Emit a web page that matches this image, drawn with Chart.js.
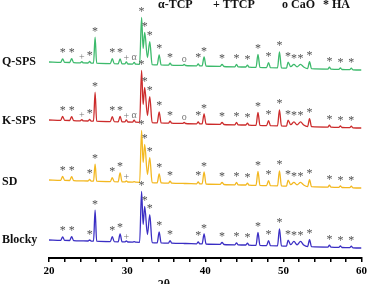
<!DOCTYPE html>
<html>
<head>
<meta charset="utf-8">
<script src="https://cdn.jsdelivr.net/npm/chart.js@4.4.0/dist/chart.umd.min.js"></script>
<style>
  body { margin: 0; background: #fff; }
  canvas { display: block; }
</style>
</head>
<body>
<canvas id="xrdChart" width="370" height="284"></canvas>
<script>
// 2-theta sampling positions (deg), shared by all four patterns
const twoTheta = [20, 21.5, 21.75, 22.0, 22.65, 22.9, 23.15, 24.0, 24.2, 24.4,
  25.0, 25.2, 25.4, 25.7, 25.9, 26.1, 27.85, 28.1, 28.35, 28.85,
  29.1, 29.35, 29.7, 29.9, 30.1, 30.7, 30.9, 31.1, 31.6, 31.85,
  32.05, 32.25, 32.6, 32.9, 33.2, 33.85, 34.1, 34.35, 35.3, 35.5,
  35.7, 37.1, 37.3, 37.5, 38.9, 39.1, 39.3, 39.6, 39.85, 40.1,
  41.9, 42.15, 42.4, 43.8, 44.0, 44.2, 45.2, 45.4, 45.6, 46.5,
  46.75, 47.0, 47.85, 48.1, 48.35, 49.25, 49.5, 49.75, 50.4, 50.6,
  50.95, 51.35, 51.75, 52.2, 52.6, 53.1, 53.35, 53.6, 55.7, 55.9,
  56.1, 57.1, 57.3, 57.5, 58.5, 58.7, 58.9, 60];

// intensities (a.u.)
const qspsIntensity = [8, 7.7, 11.2, 7.6, 7.5, 11.4, 7.4, 7.2, 8.4, 7.1,
  7.0, 8.5, 6.9, 6.9, 32.8, 6.8, 6.4, 11.4, 6.3, 6.2,
  11.2, 6.1, 6.1, 8, 6.0, 5.9, 7.6, 5.8, 5.7, 52.6,
  21.6, 37.5, 12.5, 28.4, 5.4, 5.2, 15.2, 5.1, 4.9, 6.9,
  4.9, 4.6, 5.5, 4.5, 4.2, 6.2, 4.1, 4.1, 13, 4.0,
  3.6, 5.6, 3.5, 3.2, 5.7, 3.2, 3.0, 4.9, 2.9, 2.7,
  15.6, 2.6, 2.4, 7.4, 2.3, 2.2, 18.1, 2.1, 1.9, 7.9,
  3.3, 5.7, 3.2, 5.6, 3, 1.4, 8.3, 1.3, 0.9, 2.8,
  0.8, 0.6, 2, 0.5, 0.3, 1.8, 0.2, 0];

const kspsIntensity = [8, 7.7, 11.7, 7.6, 7.5, 11.4, 7.4, 7.2, 8.4, 7.1,
  7.0, 8.5, 6.9, 6.9, 35.8, 6.8, 6.4, 11.4, 6.3, 6.2,
  11.7, 6.1, 6.1, 8, 6.0, 5.9, 7.8, 5.8, 5.7, 57.6,
  23.6, 40.5, 12.5, 31.4, 5.4, 5.2, 16.2, 5.1, 4.9, 6.9,
  4.9, 4.6, 5.5, 4.5, 4.2, 6.2, 4.1, 4.1, 14, 4.0,
  3.6, 5.6, 3.5, 3.2, 5.7, 3.2, 3.0, 4.9, 2.9, 2.7,
  15.6, 2.6, 2.4, 7.4, 2.3, 2.2, 18.1, 2.1, 1.9, 7.9,
  3.3, 6.2, 3.2, 6.1, 3, 1.4, 9.3, 1.3, 0.9, 2.8,
  0.8, 0.6, 2, 0.5, 0.3, 1.8, 0.2, 0];

const sdIntensity = [8, 7.7, 11.7, 7.6, 7.5, 11.4, 7.4, 7.2, 7.2, 7.1,
  7.0, 8.5, 6.9, 6.9, 23.8, 6.8, 6.4, 10.4, 6.3, 6.2,
  15.2, 6.1, 6.1, 7, 6.0, 5.9, 6.3, 5.8, 5.7, 57.6,
  25.6, 43.5, 13.5, 30.4, 5.4, 5.2, 14.2, 5.1, 4.9, 6.9,
  4.9, 4.6, 4.5, 4.5, 4.2, 6.2, 4.1, 4.1, 16, 4.0,
  3.6, 5.6, 3.5, 3.2, 5.7, 3.2, 3.0, 4.9, 2.9, 2.7,
  16.6, 2.6, 2.4, 7.4, 2.3, 2.2, 17.1, 2.1, 1.9, 7.9,
  3.3, 5.7, 3.2, 5.6, 3, 1.4, 8.3, 1.3, 0.9, 2.8,
  0.8, 0.6, 2, 0.5, 0.3, 1.8, 0.2, 0];

const blockyIntensity = [8, 7.7, 11.2, 7.6, 7.5, 11.4, 7.4, 7.2, 7.2, 7.1,
  7.0, 8.0, 6.9, 6.9, 37.8, 6.8, 6.4, 11.4, 6.3, 6.2,
  14.2, 6.1, 6.1, 7, 6.0, 5.9, 6.3, 5.8, 5.7, 56.6,
  23.6, 41.5, 13.5, 33.4, 5.4, 5.2, 16.2, 5.1, 4.9, 7.4,
  4.9, 4.6, 4.5, 4.5, 4.2, 6.2, 4.1, 4.1, 14, 4.0,
  3.6, 5.6, 3.5, 3.2, 5.2, 3.2, 3.0, 4.9, 2.9, 2.7,
  15.6, 2.6, 2.4, 7.4, 2.3, 2.2, 19.1, 2.1, 1.9, 7.9,
  3.3, 6.7, 3.2, 6.6, 3, 1.4, 8.3, 1.3, 0.9, 2.8,
  0.8, 0.6, 2, 0.5, 0.3, 1.8, 0.2, 0];

const sampleNames = ['Q-SPS', 'K-SPS', 'SD', 'Blocky'];
const stackOffsets = [188, 130, 70, 10]; // vertical shift of each pattern
const lineColors = ['#3dba6c', '#cc2b2b', '#f3b820', '#3a2ec4'];

// phase marks: [2theta, symbol]
const marksSPS = [[21.75, '*'], [22.9, '*'], [24.2, '+'], [25.2, '*'], [25.9, '*'],
  [28.1, '*'], [29.1, '*'], [29.9, '+'], [30.9, 'α'], [31.85, '*'], [32.25, '*'],
  [32.9, '*'], [34.1, '*'], [35.5, '*'], [37.3, 'o'], [39.1, '*'], [39.85, '*'],
  [42.15, '*'], [44.0, '*'], [45.4, '*'], [46.75, '*'], [48.1, '*'], [49.5, '*'],
  [50.6, '*'], [51.35, '*'], [52.2, '*'], [53.35, '*'], [55.9, '*'], [57.3, '*'], [58.7, '*']];
const marksPowder = [[21.75, '*'], [22.9, '*'], [25.2, '*'], [25.9, '*'],
  [28.1, '*'], [29.1, '*'], [29.9, '+'], [31.85, '*'], [32.25, '*'],
  [32.9, '*'], [34.1, '*'], [35.5, '*'], [39.1, '*'], [39.85, '*'],
  [42.15, '*'], [44.0, '*'], [45.4, '*'], [46.75, '*'], [48.1, '*'], [49.5, '*'],
  [50.6, '*'], [51.35, '*'], [52.2, '*'], [53.35, '*'], [55.9, '*'], [57.3, '*'], [58.7, '*']];
const sampleMarks = [marksSPS, marksSPS, marksPowder, marksPowder];

const legendItems = [['α-TCP', 158], ['+ TTCP', 213], ['o CaO', 282], ['* HA', 323]];

const intensities = [qspsIntensity, kspsIntensity, sdIntensity, blockyIntensity];
const serif = '"Liberation Serif", "Times New Roman", serif';

function drawCentered(ctx, text, x, cy) {
    const m = ctx.measureText(text);
    ctx.fillText(text, x, cy + (m.actualBoundingBoxAscent - m.actualBoundingBoxDescent) / 2);
}

const labelsPlugin = {
    id: 'xrdLabels',
    afterDatasetsDraw(chart) {
        const ctx = chart.ctx;
        const xs = chart.scales.x;
        const ys = chart.scales.y;
        ctx.save();
        ctx.textAlign = 'center';
        ctx.textBaseline = 'alphabetic';

        // phase markers above the peaks
        chart.data.datasets.forEach((ds, i) => {
            sampleMarks[i].forEach(([tt, sym]) => {
                const pt = ds.data.find(p => p.x === tt);
                const px = xs.getPixelForValue(tt);
                const py = ys.getPixelForValue(pt.y);
                if (sym === '*') {
                    ctx.font = '12px ' + serif;
                    ctx.fillStyle = '#505050';
                    drawCentered(ctx, '*', px, py - 8);
                } else {
                    ctx.font = '10px ' + serif;
                    ctx.fillStyle = '#777';
                    drawCentered(ctx, sym, px, py - 5);
                }
            });
        });

        // sample names
        ctx.textAlign = 'left';
        ctx.fillStyle = '#111';
        ctx.font = 'bold 12px ' + serif;
        const nameBase = [65, 124, 185, 243];
        sampleNames.forEach((n, i) => ctx.fillText(n, 2, nameBase[i]));

        // phase legend along the top
        ctx.font = 'bold 12px ' + serif;
        legendItems.forEach(([t, x]) => ctx.fillText(t, x, 8));

        // x axis title, clipped by the bottom edge as in the figure
        ctx.textAlign = 'center';
        ctx.textBaseline = 'top';
        ctx.font = 'bold 12px ' + serif;
        ctx.fillText('2θ', 164, 279);
        ctx.restore();
    }
};

const datasets = intensities.map((vals, i) => ({
    label: sampleNames[i],
    data: twoTheta.map((t, j) => ({ x: t, y: vals[j] + stackOffsets[i] })),
    borderColor: lineColors[i],
    borderWidth: 1.3,
    pointRadius: 0,
    fill: false,
    cubicInterpolationMode: 'monotone'
}));

new Chart(document.getElementById('xrdChart').getContext('2d'), {
    type: 'line',
    data: { datasets: datasets },
    options: {
        responsive: false,
        animation: false,
        layout: { padding: { left: 49, right: 8, top: 0, bottom: 0 } },
        plugins: {
            legend: { display: false },
            tooltip: { enabled: false }
        },
        scales: {
            x: {
                type: 'linear',
                min: 20,
                max: 60,
                afterFit: scale => { scale.height = 26; },
                border: { color: '#000', width: 2 },
                grid: { drawOnChartArea: false, tickLength: 4, color: '#000', lineWidth: 1.5 },
                ticks: {
                    stepSize: 2,
                    autoSkip: false,
                    maxRotation: 0,
                    padding: 3,
                    color: '#000',
                    font: { family: serif, size: 11, weight: 'bold' },
                    callback: v => (v % 10 === 0 ? v : '')
                }
            },
            y: { display: false, min: 0, max: 258 }
        }
    },
    plugins: [labelsPlugin]
});
</script>
</body>
</html>
